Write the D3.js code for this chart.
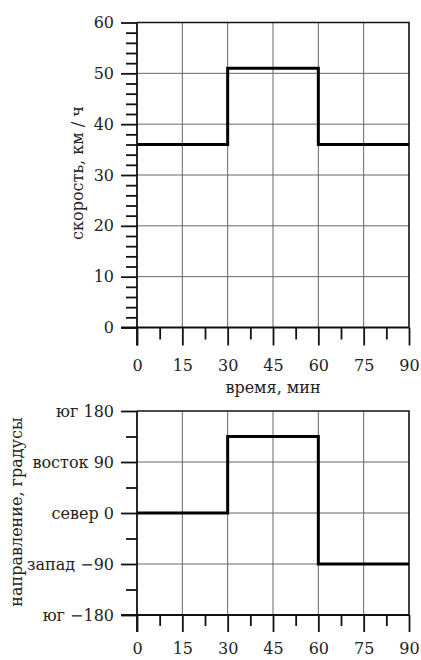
<!DOCTYPE html>
<html>
<head>
<meta charset="utf-8">
<script src="https://cdn.jsdelivr.net/npm/d3@7"></script>
<style>
  body { margin: 0; background: #fff; }
  svg text { font-family: "DejaVu Serif", "Liberation Serif", serif; fill: #222; }
</style>
</head>
<body>
<div id="chart"></div>
<script>

// time (min) on x axis, shared by both panels
var timeTicks = [0, 15, 30, 45, 60, 75, 90];
var timeMinor = [7.5, 22.5, 37.5, 52.5, 67.5, 82.5];

// speed panel
var speedTime = [0, 30, 60, 90];
var speedVals = [36, 51, 36, 36];
var speedTicks = [0, 10, 20, 30, 40, 50, 60];

// direction panel
var dirTime = [0, 30, 60, 90];
var dirVals = [0, 135, -90, -90];
var dirTicks = [-180, -90, 0, 90, 180];
var dirLabels = ["юг −180", "запад −90", "север 0", "восток 90", "юг 180"];
var dirMinor = [-135, -45, 45, 135];

var width = 421, height = 660;
var fs = 16, titleFs = 16;

var svg = d3.select("#chart")
  .append("svg")
  .attr("width", width)
  .attr("height", height);

var x = d3.scaleLinear().domain([0, 90]).range([137, 409]);

function panel(y, yTicks, yMinor, yFormat, xTickLen, xMinorLen, xPad, yPad) {
  var g = svg.append("g");
  var y0 = y.range()[0], y1 = y.range()[1];

  // grid
  g.append("g").selectAll("line")
    .data(timeTicks.slice(1, -1))
    .enter().append("line")
    .attr("x1", d => x(d)).attr("x2", d => x(d))
    .attr("y1", y0).attr("y2", y1)
    .attr("stroke", "#666").attr("stroke-width", 1);
  g.append("g").selectAll("line")
    .data(yTicks.slice(1, -1))
    .enter().append("line")
    .attr("x1", x(0)).attr("x2", x(90))
    .attr("y1", d => y(d)).attr("y2", d => y(d))
    .attr("stroke", "#666").attr("stroke-width", 1);

  // frame top and right
  g.append("path")
    .attr("d", "M" + x(0) + "," + y1 + "H" + x(90) + "V" + y0)
    .attr("fill", "none").attr("stroke", "#111").attr("stroke-width", 1.6);

  // minor ticks
  g.append("g")
    .attr("transform", "translate(" + x(0) + ",0)")
    .call(d3.axisLeft(y).tickValues(yMinor).tickSize(11).tickFormat(""))
    .call(a => a.select(".domain").remove());
  g.append("g")
    .attr("transform", "translate(0," + y0 + ")")
    .call(d3.axisBottom(x).tickValues(timeMinor).tickSize(xMinorLen).tickFormat(""))
    .call(a => a.select(".domain").remove());

  // major axes
  var ya = g.append("g")
    .attr("transform", "translate(" + x(0) + ",0)")
    .call(d3.axisLeft(y).tickValues(yTicks).tickSize(16).tickPadding(yPad).tickFormat(yFormat));
  ya.select(".domain").attr("d", "M0," + y1 + "V" + (y0 + xTickLen));

  var xa = g.append("g")
    .attr("transform", "translate(0," + y0 + ")")
    .call(d3.axisBottom(x).tickValues(timeTicks).tickSize(xTickLen).tickPadding(xPad).tickFormat(d3.format("d")));
  xa.select(".domain").attr("d", "M" + (x(0) - 16) + ",0H" + x(90));

  g.selectAll(".tick line").attr("stroke", "#111").attr("stroke-width", 1.8);
  g.selectAll(".domain").attr("stroke", "#111").attr("stroke-width", 1.8);
  g.selectAll(".tick text").attr("font-size", fs).attr("fill", "#222")
    .attr("font-family", "'DejaVu Serif', serif");
  return g;
}

// speed panel
var ySpeed = d3.scaleLinear().domain([0, 60]).range([327.5, 22.5]);
var speedMinor = d3.range(0, 61, 2).filter(d => d % 10 != 0);
var topPanel = panel(ySpeed, speedTicks, speedMinor, d3.format("d"), 18, 12, 14, 7);

topPanel.append("path")
  .datum(speedTime.map((t, i) => [t, speedVals[i]]))
  .attr("fill", "none").attr("stroke", "#000").attr("stroke-width", 3)
  .attr("d", d3.line().x(d => x(d[0])).y(d => ySpeed(d[1])).curve(d3.curveStepAfter));

topPanel.append("text")
  .attr("x", 273).attr("y", 393)
  .attr("text-anchor", "middle").attr("font-size", titleFs)
  .text("время, мин");

topPanel.append("text")
  .attr("transform", "translate(83,173) rotate(-90)")
  .attr("text-anchor", "middle").attr("font-size", titleFs)
  .text("скорость, км / ч");

// direction panel
var yDir = d3.scaleLinear().domain([-180, 180]).range([615, 411]);
var bottomPanel = panel(yDir, dirTicks, dirMinor, (d, i) => dirLabels[i], 17, 11, 11, 7);

bottomPanel.append("path")
  .datum(dirTime.map((t, i) => [t, dirVals[i]]))
  .attr("fill", "none").attr("stroke", "#000").attr("stroke-width", 3)
  .attr("d", d3.line().x(d => x(d[0])).y(d => yDir(d[1])).curve(d3.curveStepAfter));

bottomPanel.append("text")
  .attr("transform", "translate(22,512) rotate(-90)")
  .attr("text-anchor", "middle").attr("font-size", titleFs)
  .text("направление, градусы");

</script>
</body>
</html>
